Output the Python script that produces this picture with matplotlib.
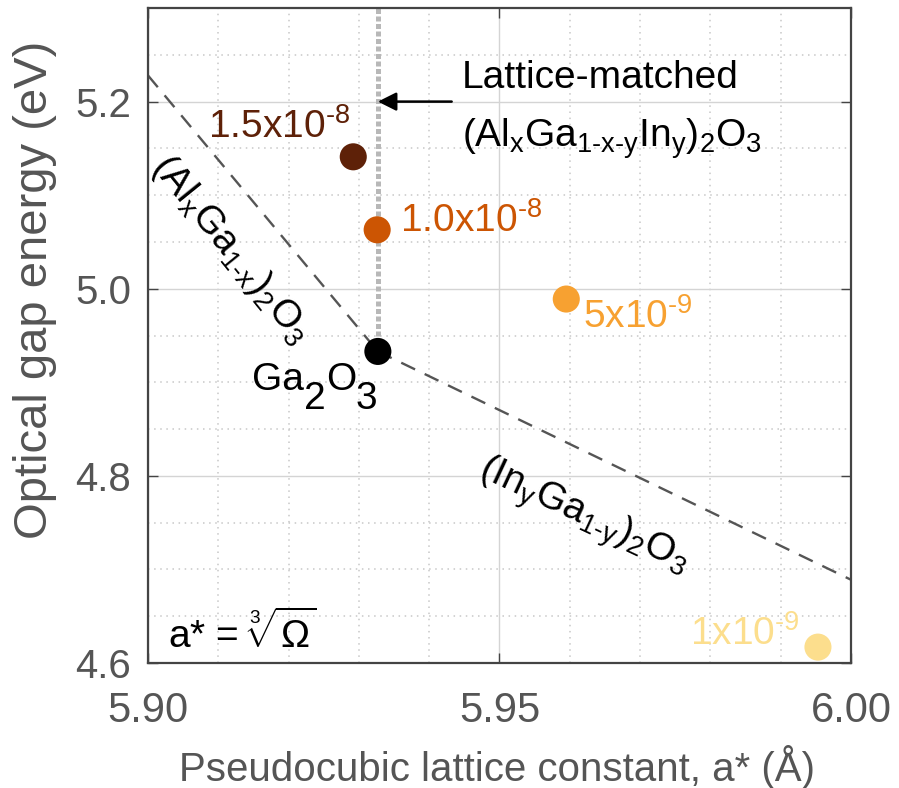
"""Optical gap vs pseudocubic lattice constant for (Al,Ga,In)2O3 films."""

import matplotlib
matplotlib.use("Agg")
import matplotlib.pyplot as plt
from matplotlib.ticker import MultipleLocator, FormatStrFormatter
from matplotlib.transforms import offset_copy

plt.rcParams["font.family"] = ["Liberation Sans", "DejaVu Sans"]
plt.rcParams["mathtext.fontset"] = "custom"
plt.rcParams["mathtext.rm"] = "Liberation Sans"
plt.rcParams["mathtext.it"] = "Liberation Sans"
plt.rcParams["mathtext.default"] = "regular"

# ── Data ──
lattice_a = [5.9292, 5.9326, 5.9595, 5.9953]          # Å
gap_energy = [5.141, 5.063, 4.989, 4.617]             # eV
point_colors = ["#5E2108", "#CC5503", "#F7A131", "#FCDE8D"]
pressure_labels = [r"1.5x10$^{\text{-8}}$", r"1.0x10$^{\text{-8}}$",
                   r"5x10$^{\text{-9}}$", r"1x10$^{\text{-9}}$"]
label_x = [5.9085, 5.9358, 5.9619, 5.9771]
label_y = [5.161, 5.061, 4.958, 4.619]

ga2o3_a = 5.9327
ga2o3_e = 4.933

# Vegard-type dashed trends through Ga2O3
al_line_a = [5.900, ga2o3_a]
al_line_e = [5.228, ga2o3_e]
in_line_a = [ga2o3_a, 6.000]
in_line_e = [ga2o3_e, 4.689]

X_LIM = (5.90, 6.00)
Y_LIM = (4.60, 5.30)
X_TICKS = [5.90, 5.95, 6.00]
Y_TICKS = [4.6, 4.8, 5.0, 5.2]

AXIS_GRAY = "#444444"
LABEL_GRAY = "#555555"


def _draw_chain(ax, x, y, pieces, **kw):
    """Draw text pieces side by side, each with its own vertical offset (pt)."""
    fig = ax.figure
    renderer = fig.canvas.get_renderer()
    dx = 0.0
    for txt, dy in pieces:
        trans = offset_copy(ax.transData, fig=fig, x=dx, y=dy, units="points")
        t = ax.text(x, y, txt, transform=trans, ha="left", va="baseline", **kw)
        dx += t.get_window_extent(renderer).width * 72.0 / fig.dpi


def main():
    fig = plt.figure(figsize=(8.99, 7.88), dpi=100)
    ax = fig.add_axes([0.1646, 0.1586, 0.782, 0.8312])

    # grid: solid at major, dotted at minor
    ax.set_xlim(*X_LIM)
    ax.set_ylim(*Y_LIM)
    ax.set_xticks(X_TICKS)
    ax.set_yticks(Y_TICKS)
    ax.xaxis.set_minor_locator(MultipleLocator(0.01))
    ax.yaxis.set_minor_locator(MultipleLocator(0.05))
    ax.xaxis.set_major_formatter(FormatStrFormatter("%.2f"))
    ax.yaxis.set_major_formatter(FormatStrFormatter("%.1f"))
    ax.grid(True, which="major", color="#d4d4d4", linewidth=1.0, linestyle="-")
    ax.grid(True, which="minor", color="#c8c8c8", linewidth=1.1, linestyle=(0, (1, 3)))
    ax.set_axisbelow(True)

    # lattice-matched vertical line
    ax.plot([ga2o3_a, ga2o3_a], [ga2o3_e, Y_LIM[1]], color="#b8b8b8",
            linewidth=3.6, linestyle=(0, (1, 0.5)), zorder=2)

    ax.plot(al_line_a, al_line_e, color="#555555", linewidth=1.7,
            dashes=(6.5, 4.5), zorder=2)
    ax.plot(in_line_a, in_line_e, color="#555555", linewidth=1.7,
            dashes=(6.5, 4.5), zorder=2)

    ax.scatter(lattice_a, gap_energy, s=380, c=point_colors, edgecolors="none", zorder=4)
    ax.scatter([ga2o3_a], [ga2o3_e], s=380, c="black", edgecolors="none", zorder=5)

    for x, y, txt, col in zip(label_x, label_y, pressure_labels, point_colors):
        ax.text(x, y, txt, color=col, fontsize=28, ha="left", va="baseline")

    # Ga2O3 with full-size, lowered subscripts
    _draw_chain(ax, 5.9148, 4.892, [("Ga", 0), ("2", -14), ("O", 0), ("3", -14)],
                fontsize=28)
    ax.text(5.9028, 4.616, r"a* = $\sqrt[3]{\Omega}$", fontsize=28,
            ha="left", va="baseline")
    ax.text(5.9118, 5.042, r"(Al$_x$Ga$_{\text{1-x}}$)$_2$O$_3$", fontsize=28,
            rotation=-51, rotation_mode="anchor", ha="center", va="center")
    ax.text(5.9620, 4.756, r"(In$_y$Ga$_{\text{1-y}}$)$_2$O$_3$", fontsize=28,
            rotation=-25, rotation_mode="anchor", ha="center", va="center")

    ax.text(5.9447, 5.215, "Lattice-matched", fontsize=28, ha="left", va="baseline")
    ax.text(5.9447, 5.152, r"(Al$_x$Ga$_{\text{1-x-y}}$In$_y$)$_2$O$_3$", fontsize=28,
            ha="left", va="baseline")
    ax.annotate("", xy=(ga2o3_a, 5.2), xytext=(5.9432, 5.2),
                arrowprops=dict(arrowstyle="-|>", color="black", lw=1.8,
                                mutation_scale=28, shrinkA=0, shrinkB=0))

    # frame and ticks
    for spine in ax.spines.values():
        spine.set_color(AXIS_GRAY)
        spine.set_linewidth(1.6)
    ax.tick_params(which="major", direction="in", length=7, width=1.0,
                   color=AXIS_GRAY, top=True, right=True, labelcolor=LABEL_GRAY)
    ax.tick_params(which="minor", length=0, top=True, right=True)
    ax.tick_params(axis="x", labelsize=30, pad=20)
    ax.tick_params(axis="y", labelsize=29, pad=12)

    ax.set_xlabel("Pseudocubic lattice constant, a* (Å)", fontsize=29, color=LABEL_GRAY)
    ax.set_ylabel("Optical gap energy (eV)", fontsize=34, color=LABEL_GRAY)
    ax.xaxis.set_label_coords(0.497, -0.125)
    ax.yaxis.set_label_coords(-0.13, 0.569)

    fig.savefig("out.png", dpi=100)
    plt.close(fig)


if __name__ == "__main__":
    main()
